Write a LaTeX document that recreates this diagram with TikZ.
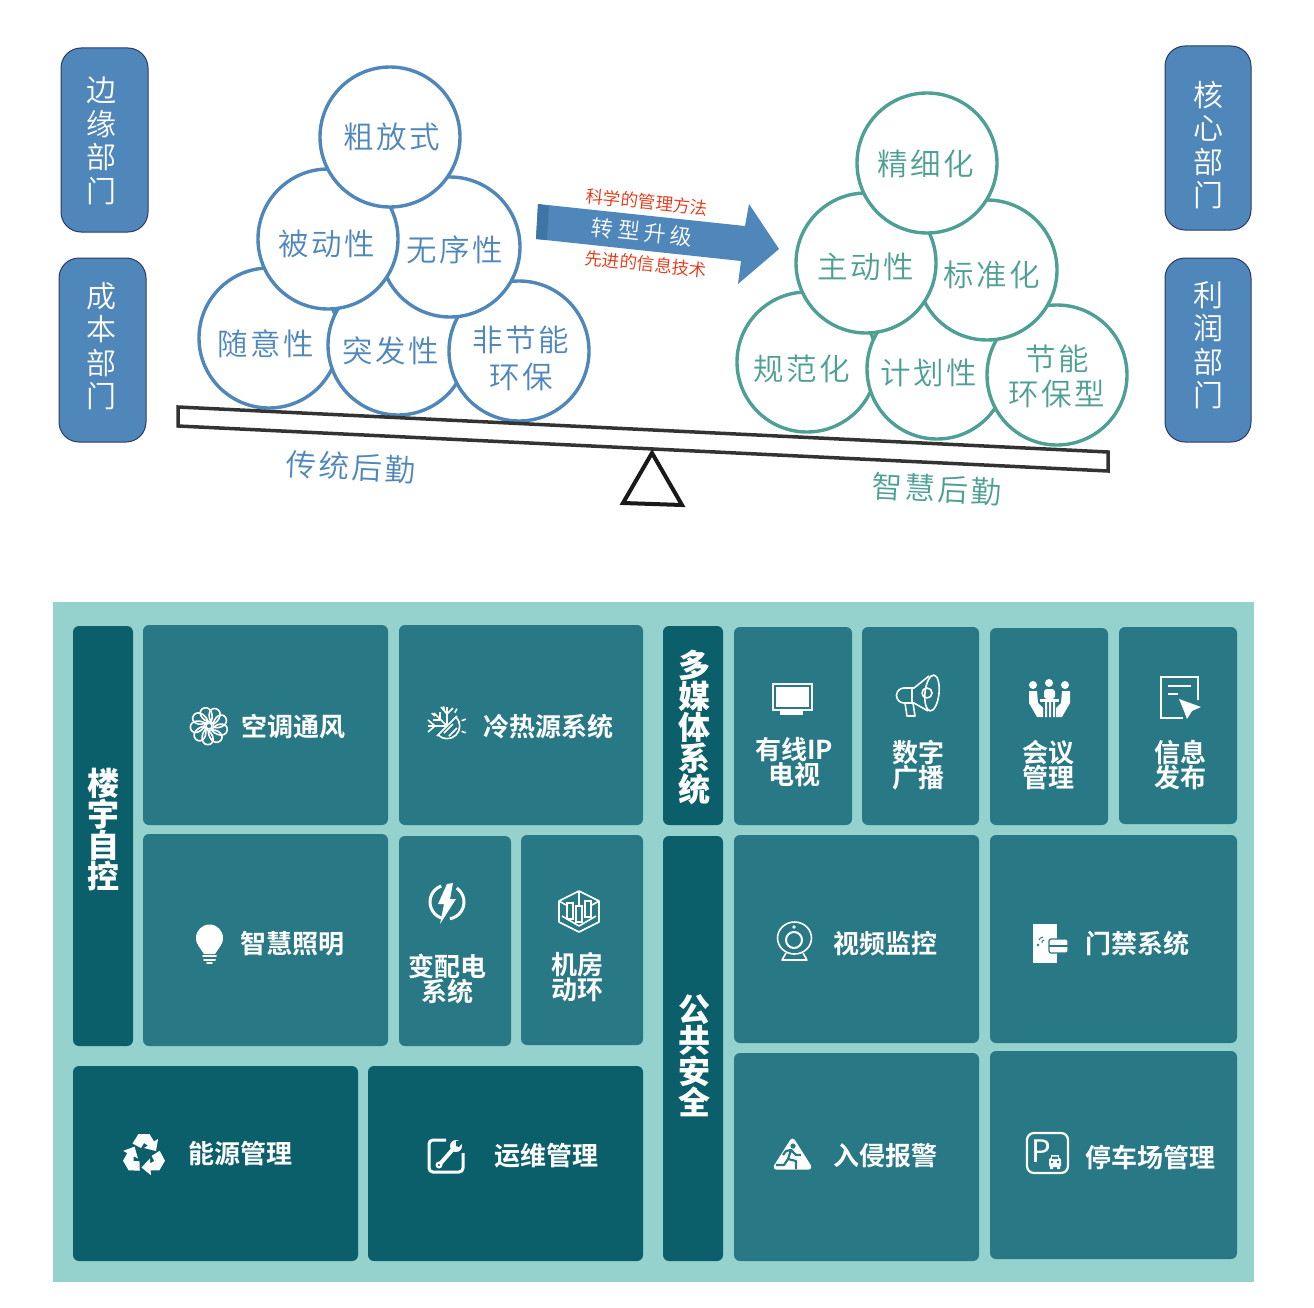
\documentclass[tikz,border=0pt]{standalone}
\usepackage{fontspec}
\usepackage[HTML]{xcolor}
\usetikzlibrary{positioning}
\setmainfont{Noto Sans CJK SC}
\newfontfamily\cjklight{Noto Sans CJK SC DemiLight}
\newfontfamily\cjkspaced[LetterSpace=9]{Noto Sans CJK SC DemiLight}
\newfontfamily\cjkwide[LetterSpace=20]{Noto Sans CJK SC DemiLight}
\newfontfamily\cjkbold{Noto Sans CJK SC Bold}
\newfontfamily\cjkblack{Noto Sans CJK SC Black}
\definecolor{sideblue}{HTML}{5087BB}
\definecolor{sideedge}{HTML}{2B3A66}
\definecolor{ringblue}{HTML}{5087BB}
\definecolor{ringgreen}{HTML}{4FA094}
\definecolor{leverdark}{HTML}{333333}
\definecolor{arrowdark}{HTML}{3D76A6}
\definecolor{notered}{HTML}{E8330F}
\definecolor{panelbg}{HTML}{95D2CE}
\definecolor{tiledark}{HTML}{0A5F6A}
\definecolor{tilemid}{HTML}{287885}
\tikzset{
  sidebox/.style={fill=sideblue,draw=sideedge,line width=1pt,rounded corners=20pt},
  sidetext/.style={text=white,align=center,inner sep=0pt,font=\cjklight\fontsize{30}{33.5}\selectfont},
  bubbleblue/.style={circle,draw=ringblue,fill=white,line width=3.4pt,minimum size=140pt,inner sep=0pt},
  bubblegreen/.style={circle,draw=ringgreen,fill=white,line width=3.4pt,minimum size=140pt,inner sep=0pt},
  bubbletext/.style={align=center,inner sep=0pt,font=\cjkspaced\fontsize{30.5}{35}\selectfont},
  noteline/.style={text=notered,inner sep=0pt,rotate=-6,font=\cjklight\fontsize{17.5}{18}\selectfont},
  tilethin/.style={rounded corners=6pt},
  tiletext/.style={text=white,align=center,inner sep=0pt,font=\cjkbold\fontsize{26}{25.5}\selectfont},
  headtext/.style={text=white,align=center,inner sep=0pt,font=\cjkblack\fontsize{32}{31}\selectfont},
  iconline/.style={draw=white,line width=1.6pt,line join=round}
}
\begin{document}
\begin{tikzpicture}[x=1pt,y=-1pt]
\useasboundingbox (0,0) rectangle (1314,1308);
\fill[white] (0,0) rectangle (1314,1308);

\filldraw[sidebox] (61,48) rectangle (148,232);
\filldraw[sidebox] (59,258) rectangle (146,442);
\filldraw[sidebox] (1165,46) rectangle (1251,230);
\filldraw[sidebox] (1165,258) rectangle (1251,442);
\node[sidetext] (bianyuan) at (101,141) {边\\缘\\部\\门};
\node[sidetext] (chengben) at (101,346) {成\\本\\部\\门};
\node[sidetext] (hexin) at (1208,145) {核\\心\\部\\门};
\node[sidetext] (lirun) at (1208,345) {利\\润\\部\\门};

\node[bubbleblue] (suiyi) at (269,338) {};
\node[bubbleblue] (tufa) at (398,345) {};
\node[bubbleblue] (feijieneng) at (519,351) {};
\node[bubbleblue] (wuxu) at (450,247) {};
\node[bubbleblue] (beidong) at (328,239) {};
\node[bubbleblue] (cufang) at (390,137) {};
\node[bubbletext,text=ringblue] (cufangtext) at (392,137) {粗放式};
\node[bubbletext,text=ringblue] (beidongtext) at (327,244) {被动性};
\node[bubbletext,text=ringblue] (wuxutext) at (455,250) {无序性};
\node[bubbletext,text=ringblue] (suiyitext) at (266,344) {随意性};
\node[bubbletext,text=ringblue] (tufatext) at (391,351) {突发性};
\node[bubbletext,text=ringblue] (feijienengtext) at (521,358) {非节能\\[2pt]环保};

\node[bubblegreen] (guifan) at (807,362) {};
\node[bubblegreen] (jihua) at (937,369) {};
\node[bubblegreen] (jieneng) at (1057,375) {};
\node[bubblegreen] (biaozhun) at (987,270) {};
\node[bubblegreen] (zhudong) at (866,263) {};
\node[bubblegreen] (jingxi) at (927,163) {};
\node[bubbletext,text=ringgreen] (jingxitext) at (926,164) {精细化};
\node[bubbletext,text=ringgreen] (zhudongtext) at (866,267) {主动性};
\node[bubbletext,text=ringgreen] (biaozhuntext) at (992,275) {标准化};
\node[bubbletext,text=ringgreen] (guifantext) at (802,369) {规范化};
\node[bubbletext,text=ringgreen] (jihuatext) at (929,373) {计划性};
\node[bubbletext,text=ringgreen] (jienengtext) at (1057,376) {节能\\环保型};

\draw[leverdark,line width=3.5pt,line join=miter] (178,407)--(1108,452)--(1108,471)--(178,426)--cycle;
\filldraw[fill=white,draw=black!90,line width=4pt,line join=miter] (652,453)--(623,503)--(682,505)--cycle;
\node[bubbletext,text=ringblue,rotate=-3] (chuantong) at (351,467) {传统后勤};
\node[bubbletext,text=ringgreen,rotate=-3] (zhihui) at (937,489) {智慧后勤};

\fill[sideblue] (538,204)--(745,226)--(749,204)--(779,249)--(738,284)--(741,261)--(536,239)--cycle;
\fill[arrowdark] (538,204)--(549,206)--(547,240)--(536,239)--cycle;
\node[text=white,inner sep=0pt,rotate=-6,font=\cjkwide\fontsize{22}{24}\selectfont] (zhuanxing) at (642,232) {转型升级};
\node[noteline] (kexue) at (647,202) {科学的管理方法};
\node[noteline] (xianjin) at (646,264) {先进的信息技术};

\fill[panelbg] (53,602) rectangle (1254,1282);
\fill[tiledark,tilethin] (73,626) rectangle (133,1046);
\fill[tilemid,tilethin] (143,625) rectangle (388,825);
\fill[tilemid,tilethin] (399,625) rectangle (643,825);
\fill[tilemid,tilethin] (143,834) rectangle (388,1046);
\fill[tilemid,tilethin] (399,836) rectangle (511,1046);
\fill[tilemid,tilethin] (521,835) rectangle (643,1045);
\fill[tiledark,tilethin] (73,1066) rectangle (358,1261);
\fill[tiledark,tilethin] (368,1066) rectangle (643,1261);
\fill[tiledark,tilethin] (663,626) rectangle (723,825);
\fill[tiledark,tilethin] (663,836) rectangle (723,1261);
\fill[tilemid,tilethin] (734,627) rectangle (852,825);
\fill[tilemid,tilethin] (862,627) rectangle (979,825);
\fill[tilemid,tilethin] (990,628) rectangle (1108,825);
\fill[tilemid,tilethin] (1119,627) rectangle (1237,824);
\fill[tilemid,tilethin] (734,835) rectangle (979,1043);
\fill[tilemid,tilethin] (990,835) rectangle (1237,1043);
\fill[tilemid,tilethin] (734,1053) rectangle (979,1261);
\fill[tilemid,tilethin] (990,1051) rectangle (1237,1259);

\node[headtext] (louyu) at (103,830) {楼\\宇\\自\\控};
\node[headtext] (duomeiti) at (694,727) {多\\媒\\体\\系\\统};
\node[headtext] (gonggong) at (694,1056) {公\\共\\安\\全};
\node[tiletext] (kongtiao) at (293,727) {空调通风};
\node[tiletext] (lengre) at (548,727) {冷热源系统};
\node[tiletext] (zhaoming) at (292,944) {智慧照明};
\node[tiletext] (biandian) at (447,979) {变配电\\系统};
\node[tiletext] (jifang) at (577,977) {机房\\动环};
\node[tiletext] (nengyuan) at (240,1154) {能源管理};
\node[tiletext] (yunwei) at (546,1156) {运维管理};
\node[tiletext] (youxian) at (794,762) {有线IP\\电视};
\node[tiletext] (shuzi) at (918,765) {数字\\广播};
\node[tiletext] (huiyi) at (1048,765) {会议\\管理};
\node[tiletext] (xinxi) at (1180,765) {信息\\发布};
\node[tiletext] (shipin) at (885,944) {视频监控};
\node[tiletext] (menjin) at (1137,944) {门禁系统};
\node[tiletext] (ruqin) at (885,1156) {入侵报警};
\node[tiletext] (tingche) at (1150,1158) {停车场管理};

\foreach \a in {0,40,...,320}
  \draw[iconline,shift={(209,726)},rotate=\a] (2,-4) .. controls (-9,-5) and (-12,-16) .. (-5,-18) .. controls (2,-20) and (5,-10) .. (2,-4);
\draw[iconline] (209,726) circle (3pt);

\draw[iconline] (437,736)--(457,716);
\draw[iconline] (456,717) arc (-45:135:12.7);
\draw[iconline] (444,733)--(453,724) (449,736)--(457,728);
\draw[iconline] (447,726)--(447,707) (447,726)--(428,726) (447,726)--(434,713);
\draw[iconline] (441,707)--(447,714)--(453,708) (428,720)--(435,726)--(428,732) (433,720)--(440,720)--(440,712);
\foreach \a in {-20,20,60,100,140}
  \draw[iconline,shift={(447,726)},rotate=\a] (15.5,0)--(20,0);

\fill[white] (209.5,938) circle (13.5pt);
\fill[white] (198,945)--(221,945)--(215,954)--(204,954)--cycle;
\draw[white,line width=2pt,line cap=round] (203,956)--(216,956) (204,960)--(215,960);
\draw[white,line width=1.5pt,line cap=round] (207,963)--(212,963);

\draw[white,line width=3pt] (447,902) ++(250:17) arc (250:110:17);
\draw[white,line width=3pt] (447,902) ++(-55:17) arc (-55:80:17);
\fill[white] (453,883)--(447,884)--(438,904)--(444,904)--(440,924)--(456,899)--(450,899)--cycle;

\draw[iconline] (579,891)--(599,901)--(599,922)--(579,932)--(559,922)--(559,901)--cycle;
\draw[iconline] (579,891)--(579,905) (562,916)--(579,926)--(596,916) (559,901)--(566,905) (599,901)--(592,905);
\draw[white,line width=1.2pt] (567,903) rectangle (573,919) (576,906) rectangle (582,922) (585,901) rectangle (591,917);

\draw[white,line width=1.5pt] (773,684) rectangle (812,710);
\fill[white] (776,687) rectangle (809,707);
\fill[white] (780,711) rectangle (803,715);

\draw[iconline,rotate around={-6:(932,693)}] (932,693) ellipse (7pt and 18pt);
\draw[iconline] (929,676)--(914,688)--(904,688) arc (270:90:7.5)--(914,703)--(928,711);
\draw[iconline] (905,703)--(907,716)--(915,716)--(913,703) (912,688)--(912,703);
\draw[iconline] (927,693) circle (5pt);

\fill[white] (1033,685) circle (4pt) (1049,683) circle (4pt) (1065,685) circle (4pt);
\fill[white,rounded corners=3pt] (1044,689) rectangle (1055,699);
\fill[white] (1040,699) rectangle (1059,702);
\fill[white] (1045,702) rectangle (1047,717) (1049,702) rectangle (1051,717) (1053,702) rectangle (1055,717);
\fill[white] (1029,691)--(1037,691)--(1038,703)--(1043,708)--(1043,717)--(1037,717)--(1029,703)--cycle;
\fill[white] (1070,691)--(1062,691)--(1061,703)--(1056,708)--(1056,717)--(1062,717)--(1070,703)--cycle;

\draw[white,line width=2pt] (1198,700)--(1198,677)--(1161,677)--(1161,718)--(1183,718);
\draw[white,line width=2pt] (1168,686)--(1191,686) (1168,694)--(1178,694);
\fill[white] (1179,699)--(1201,707)--(1192,711)--(1187,719)--(1184,711)--cycle;

\draw[iconline] (794.5,938) ellipse (17pt and 16pt);
\draw[white,line width=2pt] (794,940) circle (8pt);
\fill[white] (794,927) circle (1.8pt);
\draw[iconline] (786,953)--(782,960)--(807,960)--(803,953);

\fill[white] (1033,924) rectangle (1057,963);
\fill[tilemid] (1038,945) circle (1.3pt);
\draw[tilemid,line width=1pt] (1039,940) .. controls (1040,938) .. (1043,937) (1042,943) .. controls (1042,941) .. (1044,940);
\filldraw[fill=white,draw=tilemid,line width=1.2pt,rounded corners=2pt] (1049,939) rectangle (1068,953);
\draw[tilemid,line width=2pt] (1049,946)--(1068,946);

\filldraw[white,line width=5pt,line join=round] (792.5,1141)--(809,1167)--(776,1167)--cycle;
\fill[tilemid] (793,1146) circle (2.6pt);
\draw[tilemid,line width=2.2pt,line join=round] (791,1150)--(788,1159)--(796,1161)--(796,1169) (788,1159)--(784,1165)--(776,1165) (783,1155)--(786,1151)--(791,1150)--(796,1155)--(801,1155);

\draw[white,line width=2.2pt,rounded corners=7pt] (1027,1133) rectangle (1068,1173);
\node[text=white,inner sep=0pt,font=\fontsize{31}{31}\selectfont] (pmark) at (1041,1151) {P};
\fill[white,rounded corners=2pt] (1049,1158) rectangle (1061,1167);
\fill[white] (1051,1155) rectangle (1059,1159);
\fill[white] (1050,1167) rectangle (1053,1169) (1057,1167) rectangle (1060,1169);
\fill[tilemid] (1052,1156.5) rectangle (1058,1159) (1051,1161) rectangle (1053,1163) (1057,1161) rectangle (1059,1163);

\foreach \a in {0,120,240}
  \fill[white,shift={(144,1155)},rotate=\a] (-5.5,-21)--(5.5,-21)--(10,-13.5)--(14,-16)--(12,-4)--(0,-7)--(4,-9.5)--(0,-12)--(-3,-7)--(-11.5,-11.5)--cycle;

\draw[white,line width=3pt,rounded corners=4pt] (446,1140)--(429,1140)--(429,1172)--(463,1172)--(463,1153);
\draw[white,line width=4pt] (440,1164)--(454,1148);
\fill[white] (456,1146) circle (6pt);
\fill[tiledark] (456,1141) -- (464,1141) -- (459,1147) -- (456,1146) -- cycle;
\fill[white] (439,1165) circle (3.5pt);
\fill[tiledark] (439,1165) circle (1.2pt);
\end{tikzpicture}
\end{document}
